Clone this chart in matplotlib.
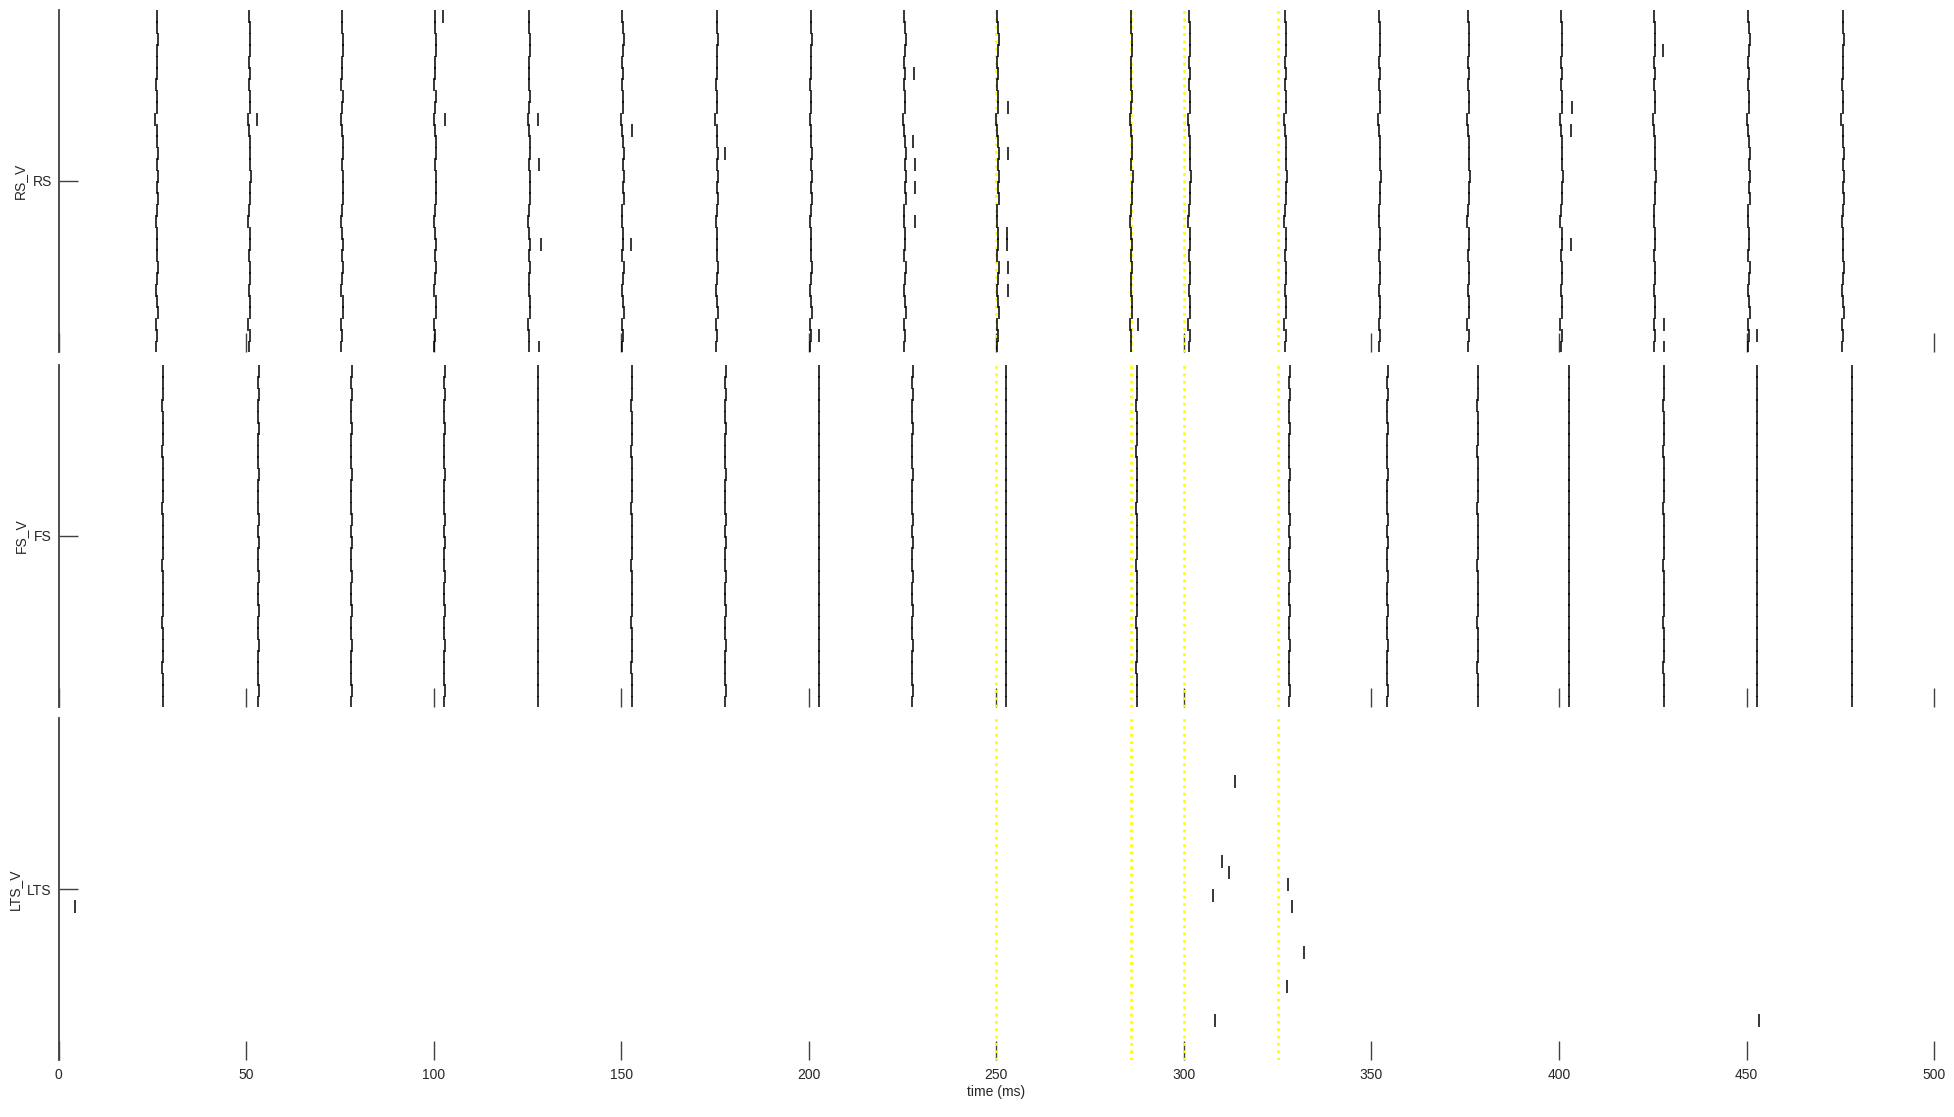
import numpy as np
import matplotlib.pyplot as plt

plt.rcParams['font.family'] = ['Liberation Sans', 'DejaVu Sans']

N_CELLS = 30
T_MAX = 500

# population volleys (ms)
rs_volleys = [26.1, 50.8, 75.5, 100.3, 125.4, 150.3, 175.4, 200.5, 225.5, 250.3,
              285.9, 301.4, 327.0, 352.1, 375.8, 400.6, 425.4, 450.5, 475.6]
fs_volleys = [27.7, 53.2, 78.0, 102.8, 127.8, 152.8, 177.7, 202.7, 227.6, 252.6,
              287.4, 328.1, 354.2, 378.3, 402.7, 427.9, 452.8, 478.1]

# per-cell lag inside a volley (ms), cell 0 = top row
rs_row_offsets = [0.0, 0.1, 0.3, 0.2, 0.0, 0.1, -0.1, 0.2, 0.1, -0.3,
                  0.0, 0.2, 0.3, 0.1, 0.4, 0.2, 0.3, 0.0, -0.2, 0.1,
                  0.2, 0.0, 0.3, 0.1, -0.1, 0.2, 0.3, -0.2, 0.1, -0.1]
fs_row_offsets = [0.1, 0.0, 0.1, -0.1, 0.0, 0.1, 0.0, -0.1, 0.0, 0.1,
                  0.0, 0.0, -0.1, 0.1, 0.0, 0.1, 0.0, -0.1, 0.1, 0.0,
                  0.0, 0.1, -0.1, 0.0, 0.1, 0.0, -0.1, 0.0, 0.1, 0.0]

# extra RS spikes outside the volleys
rs_extra_times = [102.6, 52.9, 103.1, 127.7, 128.0, 128.5, 128.0, 152.9, 152.6,
                  177.6, 202.8, 228.1, 227.9, 228.3, 228.4, 228.4,
                  253.2, 253.0, 252.9, 252.9, 253.0, 253.0, 287.8,
                  403.5, 403.1, 403.1, 427.8, 428.0, 428.1, 452.7]
rs_extra_cells = [0, 9, 9, 9, 13, 20, 29, 10, 20,
                  12, 28, 5, 11, 13, 15, 18,
                  8, 12, 19, 20, 22, 24, 27,
                  8, 10, 20, 3, 27, 29, 28]

# LTS spikes
lts_times = [4.4, 313.6, 310.2, 312.0, 307.7, 327.8, 328.8, 332.0, 327.5, 308.2, 453.2]
lts_cells = [16, 5, 12, 13, 15, 14, 16, 20, 23, 26, 26]

event_times = [250, 286, 300, 325]

pop_names = ['RS', 'FS', 'LTS']
x_ticks = list(range(0, 501, 50))

# ---- build spike lists ----
rs_t = [v + o for v in rs_volleys for o in rs_row_offsets] + rs_extra_times
rs_c = [k for v in rs_volleys for k in range(N_CELLS)] + rs_extra_cells
fs_t = [v + o for v in fs_volleys for o in fs_row_offsets]
fs_c = [k for v in fs_volleys for k in range(N_CELLS)]
spikes = [(rs_t, rs_c), (fs_t, fs_c), (lts_times, lts_cells)]

# ---- figure ----
fig = plt.figure(figsize=(19.54, 11.17), dpi=100)
ax_col = '#404040'
left, width, height = 0.030, 0.9598, 0.3062
bottoms = [0.6849, 0.3671, 0.0510]

for i, (name, (t, c)) in enumerate(zip(pop_names, spikes)):
    ax = fig.add_axes([left, bottoms[i], width, height])
    c = np.asarray(c)
    top = N_CELLS - c
    # event markers sit over the axis ticks but under the spikes
    for ev in event_times:
        ax.axvline(ev, color='#ffff00', linestyle=':', linewidth=2.0, zorder=3)
    ax.vlines(t, top - 1.14, top, color='black', linewidth=1.1, zorder=4)

    ax.set_xlim(0, T_MAX)
    ax.set_ylim(0, N_CELLS)
    for s in ['top', 'right', 'bottom']:
        ax.spines[s].set_visible(False)
    ax.spines['left'].set_color(ax_col)
    ax.spines['left'].set_linewidth(1.3)

    ax.set_xticks(x_ticks)
    ax.tick_params(axis='x', direction='in', length=13.5, width=1.0, color=ax_col,
                   labelsize=10, labelcolor='#262626', pad=6)
    if i < 2:
        ax.set_xticklabels([])
    ax.set_yticks([N_CELLS / 2])
    ax.set_yticklabels([name])
    ax.tick_params(axis='y', direction='in', length=13.5, width=1.0, color=ax_col,
                   labelsize=10, labelcolor='#262626', pad=5)
    ax.set_ylabel(name + '_V', fontsize=10, color='#262626', labelpad=4)

ax.set_xlabel('time (ms)', fontsize=10, color='#262626', labelpad=2)

fig.savefig('out.png', dpi=100)
